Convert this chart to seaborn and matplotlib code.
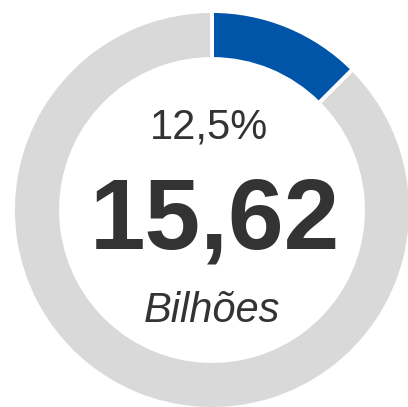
import matplotlib
matplotlib.use("Agg")
import matplotlib.pyplot as plt
import seaborn as sns

# Data
segments = ["Valor", "Restante"]
shares = [12.5, 87.5]
colors = ["#0055A8", "#D9D9D9"]
pct_label = "12,5%"
value_label = "15,62"
unit_label = "Bilhões"

sns.set_theme(style="white")
plt.rcParams["font.family"] = ["Liberation Sans", "DejaVu Sans"]

W, H = 408, 407
fig = plt.figure(figsize=(W / 100, H / 100), dpi=100)
ax = fig.add_axes([0, 0, 1, 1])

cx, cy = 212, H - 210
R = 199
ring = 48
ax.pie(shares, colors=colors, startangle=90, counterclock=False,
       center=(cx, cy), radius=R,
       wedgeprops=dict(width=ring, edgecolor="white", linewidth=2.8))
ax.set_xlim(0, W)
ax.set_ylim(0, H)
ax.set_aspect("equal")
ax.axis("off")

txt = "#333333"
ax.text(cx - 3, H - 138, pct_label, ha="center", va="baseline", fontsize=30, color=txt)
ax.text(cx + 3, H - 248, value_label, ha="center", va="baseline", fontsize=72,
        fontweight="bold", color=txt)
ax.text(cx, H - 322, unit_label, ha="center", va="baseline", fontsize=30,
        fontstyle="italic", color=txt)

fig.savefig("out.png", dpi=100)
